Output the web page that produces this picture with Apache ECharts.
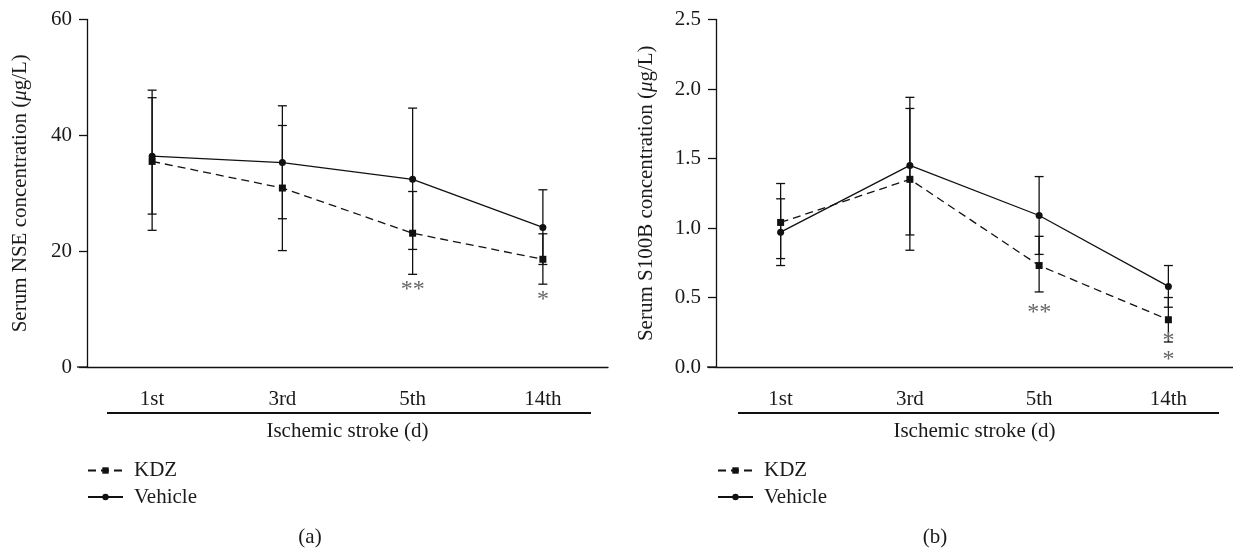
<!DOCTYPE html>
<html><head><meta charset="utf-8">
<script src="https://cdn.jsdelivr.net/npm/echarts@6/dist/echarts.min.js"></script>
<style>html,body{margin:0;padding:0;background:#fff}#c{width:1233px;height:550px}</style>
</head><body><div id="c"></div>
<script>
// ---- data ----
const categories = ['1st', '3rd', '5th', '14th'];
const nseKDZ = [35.5, 30.9, 23.1, 18.6];
const nseKDZLow = [23.6, 20.1, 16.0, 14.3];
const nseKDZHigh = [47.8, 41.7, 30.3, 23.0];
const nseVeh = [36.4, 35.3, 32.4, 24.1];
const nseVehLow = [26.4, 25.6, 20.3, 17.7];
const nseVehHigh = [46.5, 45.1, 44.7, 30.6];
const s100KDZ = [1.04, 1.35, 0.73, 0.34];
const s100KDZLow = [0.78, 0.84, 0.54, 0.18];
const s100KDZHigh = [1.32, 1.86, 0.94, 0.50];
const s100Veh = [0.97, 1.45, 1.09, 0.58];
const s100VehLow = [0.73, 0.95, 0.81, 0.43];
const s100VehHigh = [1.21, 1.94, 1.37, 0.73];
const nseTicks = ['0', '20', '40', '60'];
const s100Ticks = ['0.0', '0.5', '1.0', '1.5', '2.0', '2.5'];
const nseStars = [[2, 14.0, '**'], [3, 12.3, '*']];
const s100Stars = [[2, 0.42, '**'], [3, 0.216, '*'], [3, 0.079, '*']];

// ---- styling ----
const FONT = "'Liberation Serif', 'DejaVu Serif', serif";
const INK = '#111';
const TXT = '#1a1a1a';
const FS = 21;

function errorSeries(name, low, high, ai) {
  return {
    type: 'custom', name: name, xAxisIndex: ai, yAxisIndex: ai, z: 3, silent: true,
    data: categories.map((c, i) => [i, low[i], high[i]]),
    encode: { x: 0, y: [1, 2] },
    renderItem: function (params, api) {
      const x = api.value(0);
      const lo = api.coord([x, api.value(1)]);
      const hi = api.coord([x, api.value(2)]);
      const hw = 4.5;
      const st = { stroke: INK, lineWidth: 1.3, fill: null };
      return {
        type: 'group', children: [
          { type: 'line', shape: { x1: lo[0], y1: lo[1], x2: hi[0], y2: hi[1] }, style: st },
          { type: 'line', shape: { x1: lo[0] - hw, y1: lo[1], x2: lo[0] + hw, y2: lo[1] }, style: st },
          { type: 'line', shape: { x1: hi[0] - hw, y1: hi[1], x2: hi[0] + hw, y2: hi[1] }, style: st }
        ]
      };
    }
  };
}

function starSeries(stars, ai) {
  return {
    type: 'custom', name: 'sig' + ai, xAxisIndex: ai, yAxisIndex: ai, z: 6, silent: true,
    data: stars.map(s => [s[0], s[1]]),
    renderItem: function (params, api) {
      const p = api.coord([api.value(0), api.value(1)]);
      return {
        type: 'text', x: p[0], y: p[1] + 4,
        style: { text: stars[params.dataIndex][2], fontSize: 24, fontFamily: FONT, fill: '#666', align: 'center', verticalAlign: 'middle' }
      };
    }
  };
}

function lineSeries(name, data, ai, dashed) {
  return {
    type: 'line', name: name, xAxisIndex: ai, yAxisIndex: ai, data: data, z: 5,
    symbol: dashed ? 'rect' : 'circle', symbolSize: 7, showSymbol: true,
    lineStyle: { color: INK, width: 1.3, type: dashed ? [8, 5] : 'solid' },
    itemStyle: { color: INK }, animation: false
  };
}

function xAxis(ai) {
  return {
    type: 'category', gridIndex: ai, data: categories, boundaryGap: true,
    axisLine: { onZero: false, lineStyle: { color: INK, width: 1.3 } },
    axisTick: { alignWithLabel: true, length: 8, lineStyle: { color: INK, width: 1.3 } },
    axisLabel: { fontSize: FS, fontFamily: FONT, color: TXT, margin: 22 },
    name: 'Ischemic stroke (d)', nameLocation: 'middle', nameGap: 54,
    nameTextStyle: { fontSize: FS, fontFamily: FONT, color: TXT },
    splitLine: { show: false }
  };
}

function yAxis(ai, ticks, label, gap) {
  const vals = ticks.map(Number);
  return {
    type: 'value', gridIndex: ai, min: vals[0], max: vals[vals.length - 1], interval: vals[1] - vals[0],
    axisLine: { show: true, onZero: false, lineStyle: { color: INK, width: 1.3 } },
    axisTick: { show: true, length: 8, lineStyle: { color: INK, width: 1.3 } },
    axisLabel: { fontSize: FS, fontFamily: FONT, color: TXT, margin: 15, formatter: (v, i) => ticks[i] },
    splitLine: { show: false },
    name: label, nameLocation: 'middle', nameGap: gap,
    nameTextStyle: { fontSize: FS, fontFamily: FONT, color: TXT, rich: { i: { fontStyle: 'italic', fontSize: FS, fontFamily: FONT, color: TXT } } }
  };
}

function legend(left) {
  return {
    data: ['KDZ', 'Vehicle'], orient: 'vertical', left: left, top: 460, padding: 0,
    itemWidth: 35, itemHeight: 8, itemGap: 5.5, selectedMode: false,
    textStyle: { fontSize: FS, fontFamily: FONT, color: TXT, padding: [0, 0, 0, 6] }
  };
}

const chart = echarts.init(document.getElementById('c'), null, { renderer: 'canvas' });
chart.setOption({
  animation: false,
  backgroundColor: '#fff',
  grid: [
    { left: 87, top: 19.5, width: 521, height: 347.5 },
    { left: 716, top: 19.5, width: 524, height: 347.5 }
  ],
  xAxis: [xAxis(0), xAxis(1)],
  yAxis: [
    yAxis(0, nseTicks, 'Serum NSE concentration ({i|μ}g/L)', 56),
    yAxis(1, s100Ticks, 'Serum S100B concentration ({i|μ}g/L)', 59)
  ],
  legend: [legend(87), legend(717)],
  series: [
    errorSeries('KDZ err', nseKDZLow, nseKDZHigh, 0),
    errorSeries('Vehicle err', nseVehLow, nseVehHigh, 0),
    lineSeries('KDZ', nseKDZ, 0, true),
    lineSeries('Vehicle', nseVeh, 0, false),
    starSeries(nseStars, 0),
    errorSeries('KDZ err b', s100KDZLow, s100KDZHigh, 1),
    errorSeries('Vehicle err b', s100VehLow, s100VehHigh, 1),
    lineSeries('KDZ', s100KDZ, 1, true),
    lineSeries('Vehicle', s100Veh, 1, false),
    starSeries(s100Stars, 1)
  ],
  graphic: [
    { type: 'line', shape: { x1: 77, y1: 367, x2: 87, y2: 367 }, style: { stroke: INK, lineWidth: 1.3 } },
    { type: 'line', shape: { x1: 707, y1: 367, x2: 716, y2: 367 }, style: { stroke: INK, lineWidth: 1.3 } },
    { type: 'line', shape: { x1: 107, y1: 413, x2: 591, y2: 413 }, style: { stroke: INK, lineWidth: 1.8 } },
    { type: 'line', shape: { x1: 738, y1: 413, x2: 1219, y2: 413 }, style: { stroke: INK, lineWidth: 1.8 } },
    { type: 'text', x: 310, y: 537, style: { text: '(a)', fontSize: FS, fontFamily: FONT, fill: TXT, align: 'center', verticalAlign: 'middle' } },
    { type: 'text', x: 935, y: 537, style: { text: '(b)', fontSize: FS, fontFamily: FONT, fill: TXT, align: 'center', verticalAlign: 'middle' } }
  ]
});
</script>
</body></html>
